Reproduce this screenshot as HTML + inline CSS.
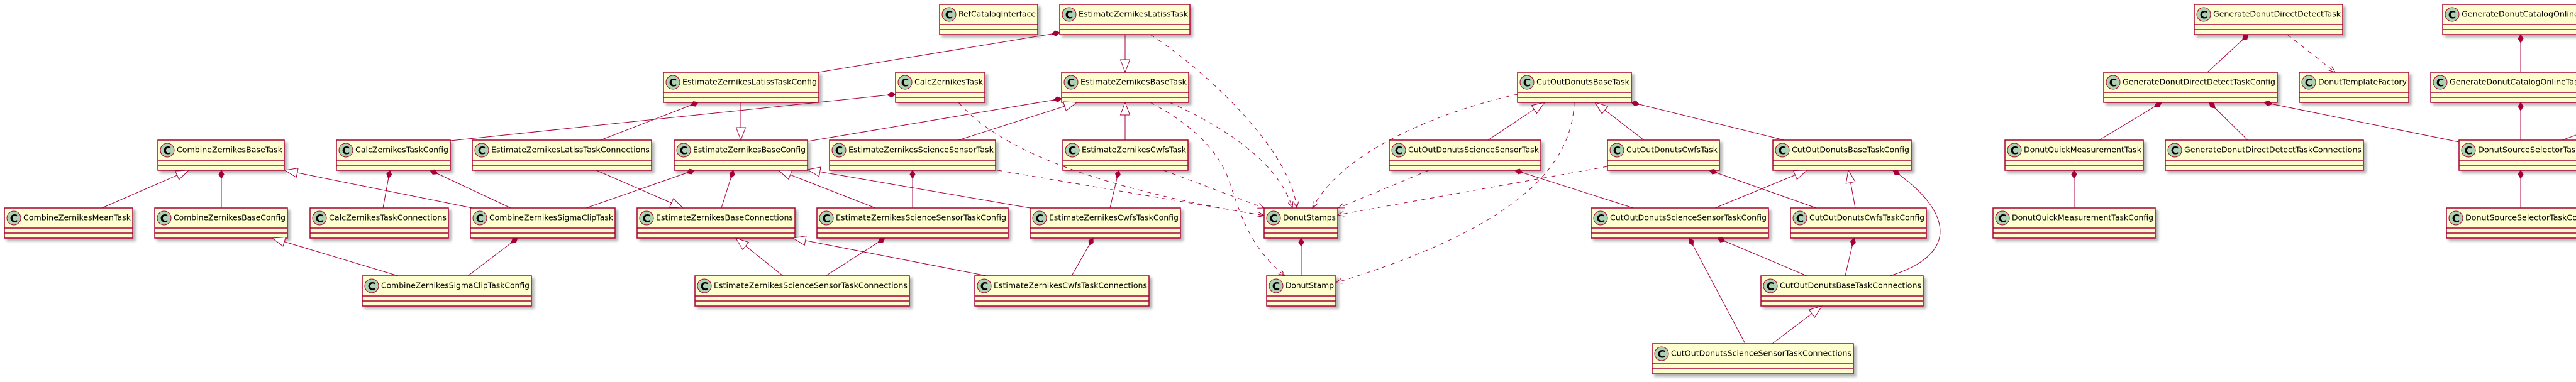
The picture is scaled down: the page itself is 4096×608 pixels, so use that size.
<!DOCTYPE html>
<html><head><meta charset="utf-8"><style>
html,body{margin:0;padding:0;background:#fff;}
svg{display:block;}
.b{fill:#FEFECE;stroke:#A80036;stroke-width:1.5;filter:url(#sh);}
.ci{fill:#ADD1B2;stroke:#A80036;stroke-width:1;}
.cc{font-family:"DejaVu Sans","Liberation Sans",sans-serif;font-weight:bold;font-size:17px;text-anchor:middle;fill:#000;}
.n{font-family:"DejaVu Sans","Liberation Sans",sans-serif;font-size:12.5px;fill:#000;}
.l{fill:none;stroke:#A80036;stroke-width:1.5;}
.e{fill:none;stroke:#A80036;stroke-width:1;}
.d{stroke-dasharray:7,7;}
</style></head><body>
<svg width="4096" height="608" viewBox="0 0 4096 608" xmlns="http://www.w3.org/2000/svg">
<defs>
<filter id="sh" x="-10%" y="-20%" width="130%" height="160%">
<feGaussianBlur in="SourceAlpha" stdDeviation="2"/>
<feOffset dx="4" dy="4" result="b"/>
<feFlood flood-color="#000" flood-opacity="0.3"/>
<feComposite in2="b" operator="in" result="s"/>
<feMerge><feMergeNode in="s"/><feMergeNode in="SourceGraphic"/></feMerge>
</filter>
<marker id="dia" markerUnits="userSpaceOnUse" markerWidth="16" markerHeight="12" viewBox="-1 -6 16 12" refX="0" refY="0" orient="auto"><path d="M0,0 L6.5,-4 L13,0 L6.5,4 Z" fill="#A80036" stroke="#A80036" stroke-width="1"/></marker>
<marker id="tri" markerUnits="userSpaceOnUse" markerWidth="24" markerHeight="20" viewBox="-22 -10 24 20" refX="0" refY="0" orient="auto"><path d="M0,0 L-20,-7.5 L-20,7.5 Z" fill="#fff" stroke="#A80036" stroke-width="1"/></marker>
<marker id="arr" markerUnits="userSpaceOnUse" markerWidth="14" markerHeight="12" viewBox="-12 -6 14 12" refX="0" refY="0" orient="auto"><path d="M-10,-4 L0,0 L-10,4" fill="none" stroke="#A80036" stroke-width="1"/></marker>
</defs>
<rect width="4096" height="608" fill="#fff"/>

<!-- Row 1 -->
<g transform="translate(1494,7)"><rect width="156" height="48" class="b"/><circle cx="15" cy="16" r="11" class="ci"/><text x="15" y="22.5" class="cc">C</text><text x="30" y="19.5" textLength="123" lengthAdjust="spacingAndGlyphs" class="n">RefCatalogInterface</text><path d="M0,32H156M0,40H156" class="l"/></g>
<g transform="translate(1685,7)"><rect width="207" height="48" class="b"/><circle cx="15" cy="16" r="11" class="ci"/><text x="15" y="22.5" class="cc">C</text><text x="30" y="19.5" textLength="174" lengthAdjust="spacingAndGlyphs" class="n">EstimateZernikesLatissTask</text><path d="M0,32H207M0,40H207" class="l"/></g>
<g transform="translate(3489,7)"><rect width="236" height="48" class="b"/><circle cx="15" cy="16" r="11" class="ci"/><text x="15" y="22.5" class="cc">C</text><text x="30" y="19.5" textLength="203" lengthAdjust="spacingAndGlyphs" class="n">GenerateDonutDirectDetectTask</text><path d="M0,32H236M0,40H236" class="l"/></g>
<g transform="translate(3884,7)"><rect width="247" height="48" class="b"/><circle cx="15" cy="16" r="11" class="ci"/><text x="15" y="22.5" class="cc">C</text><text x="30" y="19.5" textLength="214" lengthAdjust="spacingAndGlyphs" class="n">GenerateDonutCatalogOnlineTask</text><path d="M0,32H247M0,40H247" class="l"/></g>

<!-- Row 2 -->
<g transform="translate(1055,115)"><rect width="247" height="48" class="b"/><circle cx="15" cy="16" r="11" class="ci"/><text x="15" y="22.5" class="cc">C</text><text x="30" y="19.5" textLength="214" lengthAdjust="spacingAndGlyphs" class="n">EstimateZernikesLatissTaskConfig</text><path d="M0,32H247M0,40H247" class="l"/></g>
<g transform="translate(1424,115)"><rect width="142" height="48" class="b"/><circle cx="15" cy="16" r="11" class="ci"/><text x="15" y="22.5" class="cc">C</text><text x="30" y="19.5" textLength="109" lengthAdjust="spacingAndGlyphs" class="n">CalcZernikesTask</text><path d="M0,32H142M0,40H142" class="l"/></g>
<g transform="translate(1688,115)"><rect width="202" height="48" class="b"/><circle cx="15" cy="16" r="11" class="ci"/><text x="15" y="22.5" class="cc">C</text><text x="30" y="19.5" textLength="169" lengthAdjust="spacingAndGlyphs" class="n">EstimateZernikesBaseTask</text><path d="M0,32H202M0,40H202" class="l"/></g>
<g transform="translate(2413,115)"><rect width="181" height="48" class="b"/><circle cx="15" cy="16" r="11" class="ci"/><text x="15" y="22.5" class="cc">C</text><text x="30" y="19.5" textLength="148" lengthAdjust="spacingAndGlyphs" class="n">CutOutDonutsBaseTask</text><path d="M0,32H181M0,40H181" class="l"/></g>
<g transform="translate(3345,115)"><rect width="276" height="48" class="b"/><circle cx="15" cy="16" r="11" class="ci"/><text x="15" y="22.5" class="cc">C</text><text x="30" y="19.5" textLength="243" lengthAdjust="spacingAndGlyphs" class="n">GenerateDonutDirectDetectTaskConfig</text><path d="M0,32H276M0,40H276" class="l"/></g>
<g transform="translate(3656,115)"><rect width="174" height="48" class="b"/><circle cx="15" cy="16" r="11" class="ci"/><text x="15" y="22.5" class="cc">C</text><text x="30" y="19.5" textLength="141" lengthAdjust="spacingAndGlyphs" class="n">DonutTemplateFactory</text><path d="M0,32H174M0,40H174" class="l"/></g>
<g transform="translate(3865,115)"><rect width="285" height="48" class="b"/><circle cx="15" cy="16" r="11" class="ci"/><text x="15" y="22.5" class="cc">C</text><text x="30" y="19.5" textLength="252" lengthAdjust="spacingAndGlyphs" class="n">GenerateDonutCatalogOnlineTaskConfig</text><path d="M0,32H285M0,40H285" class="l"/></g>

<!-- Row 3 -->
<g transform="translate(251,223)"><rect width="201" height="48" class="b"/><circle cx="15" cy="16" r="11" class="ci"/><text x="15" y="22.5" class="cc">C</text><text x="30" y="19.5" textLength="168" lengthAdjust="spacingAndGlyphs" class="n">CombineZernikesBaseTask</text><path d="M0,32H201M0,40H201" class="l"/></g>
<g transform="translate(535,223)"><rect width="181" height="48" class="b"/><circle cx="15" cy="16" r="11" class="ci"/><text x="15" y="22.5" class="cc">C</text><text x="30" y="19.5" textLength="148" lengthAdjust="spacingAndGlyphs" class="n">CalcZernikesTaskConfig</text><path d="M0,32H181M0,40H181" class="l"/></g>
<g transform="translate(751,223)"><rect width="285" height="48" class="b"/><circle cx="15" cy="16" r="11" class="ci"/><text x="15" y="22.5" class="cc">C</text><text x="30" y="19.5" textLength="252" lengthAdjust="spacingAndGlyphs" class="n">EstimateZernikesLatissTaskConnections</text><path d="M0,32H285M0,40H285" class="l"/></g>
<g transform="translate(1072,223)"><rect width="212" height="48" class="b"/><circle cx="15" cy="16" r="11" class="ci"/><text x="15" y="22.5" class="cc">C</text><text x="30" y="19.5" textLength="179" lengthAdjust="spacingAndGlyphs" class="n">EstimateZernikesBaseConfig</text><path d="M0,32H212M0,40H212" class="l"/></g>
<g transform="translate(1319,223)"><rect width="264" height="48" class="b"/><circle cx="15" cy="16" r="11" class="ci"/><text x="15" y="22.5" class="cc">C</text><text x="30" y="19.5" textLength="231" lengthAdjust="spacingAndGlyphs" class="n">EstimateZernikesScienceSensorTask</text><path d="M0,32H264M0,40H264" class="l"/></g>
<g transform="translate(1690,223)"><rect width="199" height="48" class="b"/><circle cx="15" cy="16" r="11" class="ci"/><text x="15" y="22.5" class="cc">C</text><text x="30" y="19.5" textLength="166" lengthAdjust="spacingAndGlyphs" class="n">EstimateZernikesCwfsTask</text><path d="M0,32H199M0,40H199" class="l"/></g>
<g transform="translate(2209,223)"><rect width="241" height="48" class="b"/><circle cx="15" cy="16" r="11" class="ci"/><text x="15" y="22.5" class="cc">C</text><text x="30" y="19.5" textLength="208" lengthAdjust="spacingAndGlyphs" class="n">CutOutDonutsScienceSensorTask</text><path d="M0,32H241M0,40H241" class="l"/></g>
<g transform="translate(2556,223)"><rect width="178" height="48" class="b"/><circle cx="15" cy="16" r="11" class="ci"/><text x="15" y="22.5" class="cc">C</text><text x="30" y="19.5" textLength="145" lengthAdjust="spacingAndGlyphs" class="n">CutOutDonutsCwfsTask</text><path d="M0,32H178M0,40H178" class="l"/></g>
<g transform="translate(2819,223)"><rect width="220" height="48" class="b"/><circle cx="15" cy="16" r="11" class="ci"/><text x="15" y="22.5" class="cc">C</text><text x="30" y="19.5" textLength="187" lengthAdjust="spacingAndGlyphs" class="n">CutOutDonutsBaseTaskConfig</text><path d="M0,32H220M0,40H220" class="l"/></g>
<g transform="translate(3188,223)"><rect width="220" height="48" class="b"/><circle cx="15" cy="16" r="11" class="ci"/><text x="15" y="22.5" class="cc">C</text><text x="30" y="19.5" textLength="187" lengthAdjust="spacingAndGlyphs" class="n">DonutQuickMeasurementTask</text><path d="M0,32H220M0,40H220" class="l"/></g>
<g transform="translate(3443,223)"><rect width="315" height="48" class="b"/><circle cx="15" cy="16" r="11" class="ci"/><text x="15" y="22.5" class="cc">C</text><text x="30" y="19.5" textLength="282" lengthAdjust="spacingAndGlyphs" class="n">GenerateDonutDirectDetectTaskConnections</text><path d="M0,32H315M0,40H315" class="l"/></g>
<g transform="translate(3910,223)"><rect width="196" height="48" class="b"/><circle cx="15" cy="16" r="11" class="ci"/><text x="15" y="22.5" class="cc">C</text><text x="30" y="19.5" textLength="163" lengthAdjust="spacingAndGlyphs" class="n">DonutSourceSelectorTask</text><path d="M0,32H196M0,40H196" class="l"/></g>

<!-- Row 4 -->
<g transform="translate(7,331)"><rect width="204" height="48" class="b"/><circle cx="15" cy="16" r="11" class="ci"/><text x="15" y="22.5" class="cc">C</text><text x="30" y="19.5" textLength="171" lengthAdjust="spacingAndGlyphs" class="n">CombineZernikesMeanTask</text><path d="M0,32H204M0,40H204" class="l"/></g>
<g transform="translate(246,331)"><rect width="211" height="48" class="b"/><circle cx="15" cy="16" r="11" class="ci"/><text x="15" y="22.5" class="cc">C</text><text x="30" y="19.5" textLength="178" lengthAdjust="spacingAndGlyphs" class="n">CombineZernikesBaseConfig</text><path d="M0,32H211M0,40H211" class="l"/></g>
<g transform="translate(493,331)"><rect width="220" height="48" class="b"/><circle cx="15" cy="16" r="11" class="ci"/><text x="15" y="22.5" class="cc">C</text><text x="30" y="19.5" textLength="187" lengthAdjust="spacingAndGlyphs" class="n">CalcZernikesTaskConnections</text><path d="M0,32H220M0,40H220" class="l"/></g>
<g transform="translate(748,331)"><rect width="230" height="48" class="b"/><circle cx="15" cy="16" r="11" class="ci"/><text x="15" y="22.5" class="cc">C</text><text x="30" y="19.5" textLength="197" lengthAdjust="spacingAndGlyphs" class="n">CombineZernikesSigmaClipTask</text><path d="M0,32H230M0,40H230" class="l"/></g>
<g transform="translate(1013,331)"><rect width="251" height="48" class="b"/><circle cx="15" cy="16" r="11" class="ci"/><text x="15" y="22.5" class="cc">C</text><text x="30" y="19.5" textLength="218" lengthAdjust="spacingAndGlyphs" class="n">EstimateZernikesBaseConnections</text><path d="M0,32H251M0,40H251" class="l"/></g>
<g transform="translate(1299,331)"><rect width="304" height="48" class="b"/><circle cx="15" cy="16" r="11" class="ci"/><text x="15" y="22.5" class="cc">C</text><text x="30" y="19.5" textLength="271" lengthAdjust="spacingAndGlyphs" class="n">EstimateZernikesScienceSensorTaskConfig</text><path d="M0,32H304M0,40H304" class="l"/></g>
<g transform="translate(1638,331)"><rect width="239" height="48" class="b"/><circle cx="15" cy="16" r="11" class="ci"/><text x="15" y="22.5" class="cc">C</text><text x="30" y="19.5" textLength="206" lengthAdjust="spacingAndGlyphs" class="n">EstimateZernikesCwfsTaskConfig</text><path d="M0,32H239M0,40H239" class="l"/></g>
<g transform="translate(2010,331)"><rect width="117" height="48" class="b"/><circle cx="15" cy="16" r="11" class="ci"/><text x="15" y="22.5" class="cc">C</text><text x="30" y="19.5" textLength="84" lengthAdjust="spacingAndGlyphs" class="n">DonutStamps</text><path d="M0,32H117M0,40H117" class="l"/></g>
<g transform="translate(2530,331)"><rect width="282" height="48" class="b"/><circle cx="15" cy="16" r="11" class="ci"/><text x="15" y="22.5" class="cc">C</text><text x="30" y="19.5" textLength="249" lengthAdjust="spacingAndGlyphs" class="n">CutOutDonutsScienceSensorTaskConfig</text><path d="M0,32H282M0,40H282" class="l"/></g>
<g transform="translate(2847,331)"><rect width="216" height="48" class="b"/><circle cx="15" cy="16" r="11" class="ci"/><text x="15" y="22.5" class="cc">C</text><text x="30" y="19.5" textLength="183" lengthAdjust="spacingAndGlyphs" class="n">CutOutDonutsCwfsTaskConfig</text><path d="M0,32H216M0,40H216" class="l"/></g>
<g transform="translate(3169,331)"><rect width="258" height="48" class="b"/><circle cx="15" cy="16" r="11" class="ci"/><text x="15" y="22.5" class="cc">C</text><text x="30" y="19.5" textLength="225" lengthAdjust="spacingAndGlyphs" class="n">DonutQuickMeasurementTaskConfig</text><path d="M0,32H258M0,40H258" class="l"/></g>
<g transform="translate(3890,331)"><rect width="235" height="48" class="b"/><circle cx="15" cy="16" r="11" class="ci"/><text x="15" y="22.5" class="cc">C</text><text x="30" y="19.5" textLength="202" lengthAdjust="spacingAndGlyphs" class="n">DonutSourceSelectorTaskConfig</text><path d="M0,32H235M0,40H235" class="l"/></g>

<!-- Row 5 -->
<g transform="translate(576,439)"><rect width="269" height="48" class="b"/><circle cx="15" cy="16" r="11" class="ci"/><text x="15" y="22.5" class="cc">C</text><text x="30" y="19.5" textLength="236" lengthAdjust="spacingAndGlyphs" class="n">CombineZernikesSigmaClipTaskConfig</text><path d="M0,32H269M0,40H269" class="l"/></g>
<g transform="translate(1105,439)"><rect width="341" height="48" class="b"/><circle cx="15" cy="16" r="11" class="ci"/><text x="15" y="22.5" class="cc">C</text><text x="30" y="19.5" textLength="308" lengthAdjust="spacingAndGlyphs" class="n">EstimateZernikesScienceSensorTaskConnections</text><path d="M0,32H341M0,40H341" class="l"/></g>
<g transform="translate(1550,439)"><rect width="277" height="48" class="b"/><circle cx="15" cy="16" r="11" class="ci"/><text x="15" y="22.5" class="cc">C</text><text x="30" y="19.5" textLength="244" lengthAdjust="spacingAndGlyphs" class="n">EstimateZernikesCwfsTaskConnections</text><path d="M0,32H277M0,40H277" class="l"/></g>
<g transform="translate(2014,439)"><rect width="110" height="48" class="b"/><circle cx="15" cy="16" r="11" class="ci"/><text x="15" y="22.5" class="cc">C</text><text x="30" y="19.5" textLength="77" lengthAdjust="spacingAndGlyphs" class="n">DonutStamp</text><path d="M0,32H110M0,40H110" class="l"/></g>
<g transform="translate(2800,439)"><rect width="258" height="48" class="b"/><circle cx="15" cy="16" r="11" class="ci"/><text x="15" y="22.5" class="cc">C</text><text x="30" y="19.5" textLength="225" lengthAdjust="spacingAndGlyphs" class="n">CutOutDonutsBaseTaskConnections</text><path d="M0,32H258M0,40H258" class="l"/></g>

<!-- Row 6 -->
<g transform="translate(2627,547)"><rect width="320" height="48" class="b"/><circle cx="15" cy="16" r="11" class="ci"/><text x="15" y="22.5" class="cc">C</text><text x="30" y="19.5" textLength="287" lengthAdjust="spacingAndGlyphs" class="n">CutOutDonutsScienceSensorTaskConnections</text><path d="M0,32H320M0,40H320" class="l"/></g>

<!-- Composition edges -->
<g class="e" marker-start="url(#dia)">
<path d="M352,271 L352,331"/>
<path d="M620,271 L609,331"/>
<path d="M684,271 L812,331"/>
<path d="M1424,150 L716,224"/>
<path d="M1685,52 L1302,115"/>
<path d="M1110,163 L955,223"/>
<path d="M1688,157 L1284,225"/>
<path d="M1104,271 L932,331"/>
<path d="M1166,271 L1147,331"/>
<path d="M1451,271 L1451,331"/>
<path d="M823,379 L744,439"/>
<path d="M1407,379 L1313,439"/>
<path d="M1779,271 L1765,331"/>
<path d="M1738,379 L1704,439"/>
<path d="M2069,379 L2069,439"/>
<path d="M2594,163 L2837,223"/>
<path d="M2409,271 L2597,331"/>
<path d="M2718,271 L2888,331"/>
<path d="M2686,379 L2775,547"/>
<path d="M2731,379 L2873,439"/>
<path d="M3010,271 C3090,325 3130,400 3005,439"/>
<path d="M2948,379 L2934,439"/>
<path d="M3437,163 L3338,223"/>
<path d="M3298,271 L3298,331"/>
<path d="M3575,55 L3510,115"/>
<path d="M3513,163 L3574,223"/>
<path d="M3600,163 L3910,226"/>
<path d="M4008,55 L4008,115"/>
<path d="M4008,163 L4008,223"/>
<path d="M4008,271 L4008,331"/>
</g>
<path class="e" d="M4074,223 L4140,199"/>

<!-- Inheritance edges -->
<g class="e" marker-end="url(#tri)">
<path d="M162,331 L300,271"/>
<path d="M751,331 L453,271"/>
<path d="M633,439 L433,379"/>
<path d="M1178,163 L1178,223"/>
<path d="M1789,55 L1789,115"/>
<path d="M1524,223 L1712,163"/>
<path d="M1789,223 L1789,163"/>
<path d="M948,271 L1086,331"/>
<path d="M1392,331 L1238,271"/>
<path d="M1638,331 L1284,270"/>
<path d="M1245,439 L1170,379"/>
<path d="M1569,439 L1261,379"/>
<path d="M2366,223 L2456,163"/>
<path d="M2614,223 L2536,163"/>
<path d="M2727,331 L2873,271"/>
<path d="M2950,331 L2939,271"/>
<path d="M2818,547 L2897,487"/>
</g>

<!-- Dependency edges -->
<g class="e d" marker-end="url(#arr)">
<path d="M1829,55 C1900,100 2050,230 2062,331"/>
<path d="M1860,163 C1930,195 2030,250 2055,331"/>
<path d="M1829,163 C1880,190 1935,230 1955,290 C1975,350 1990,395 2043,439"/>
<path d="M1850,271 L2010,331"/>
<path d="M1524,163 C1570,215 1680,290 2010,343"/>
<path d="M1586,271 L2010,343"/>
<path d="M2413,150 C2320,170 2140,230 2087,331"/>
<path d="M2272,271 L2128,331"/>
<path d="M2556,265 L2127,342"/>
<path d="M2503,163 C2500,260 2420,360 2124,450"/>
<path d="M3637,55 L3713,115"/>
</g>
</svg>
</body></html>
